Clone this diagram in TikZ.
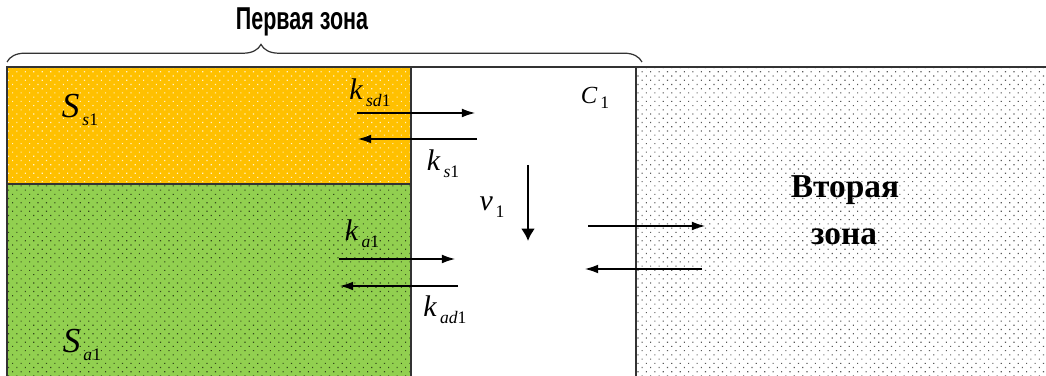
\documentclass[tikz,border=0pt]{standalone}
\usepackage{fontspec}
\setmainfont{Liberation Serif}
\newfontfamily\zonefont[FakeStretch=0.68]{Liberation Sans}
\usetikzlibrary{patterns.meta,decorations.pathreplacing,arrows.meta}
\definecolor{sorbe}{HTML}{FFC000}
\definecolor{adsorbe}{HTML}{92D050}
\definecolor{trait}{HTML}{333333}
% Indice façon éditeur d'équations
\newcommand{\etiq}[3]{\textit{#1}\raisebox{-.22em}{\fontsize{10}{11}\selectfont\,\textit{#2}#3}}
\begin{document}
\begin{tikzpicture}[
    x=0.2mm, y=-0.2mm, % Coordonnées en pixels
    points/.style={pattern={Dots[distance=3.4pt, radius=.45pt, angle=45]}},
    cadre/.style={draw=trait, line width=.8pt},
    flux/.style={-{Latex[length=7.5pt, width=5pt]}, line width=.6pt},
    vitesse/.style={-{Latex[length=7pt, width=8pt]}, line width=1.6pt},
    lbl/.style={inner sep=0pt, font=\fontsize{17}{19}\selectfont},
    grand/.style={inner sep=0pt, font=\fontsize{20}{22}\selectfont},
    moyen/.style={inner sep=0pt, font=\fontsize{14}{16}\selectfont},
    zonetxt/.style={font=\bfseries\fontsize{19}{22}\selectfont}
]
\clip (0,0) rectangle (1046,376);
% Zones
\fill[sorbe] (7,67) rectangle (411,184);
\fill[points, pattern color=white!80!sorbe] (7,67) rectangle (411,184);
\fill[adsorbe] (7,184) rectangle (411,390);
\fill[points, pattern color=black!65!adsorbe] (7,184) rectangle (411,390);
\fill[points, pattern color=black!65] (636,67) rectangle (1060,390);
\draw[cadre] (7,390) -- (7,67) -- (1060,67);
\draw[cadre] (411,67) -- (411,390);
\draw[cadre] (7,184) -- (411,184);
\draw[cadre] (636,67) -- (636,390);
% Accolade
\draw[draw=trait, line width=.7pt, decorate,
      decoration={brace, amplitude=10pt, aspect=0.4}] (7,62) -- (642,62);
\node (zone1) at (302,22) {\zonefont\bfseries\fontsize{18}{20}\selectfont Первая зона};
% Etiquettes
\node[grand] (Ss) at (80,110) {\etiq{S}{s}{1}};
\node[grand] (Sa) at (82,345) {\etiq{S}{a}{1}};
\node[lbl] (ksd) at (370,93) {\etiq{k}{sd}{1}};
\node[lbl] (ks) at (443,164) {\etiq{k}{s}{1}};
\node[lbl] (v) at (492,207) {\etiq{v}{}{1}};
\node[moyen] (C) at (595,98) {\etiq{C}{}{1}};
\node[lbl] (ka) at (362,234) {\etiq{k}{a}{1}};
\node[lbl] (kad) at (445,310) {\etiq{k}{ad}{1}};
\node[zonetxt] (zone2) at (845,190) {Вторая};
\node[zonetxt] (zone2b) at (844,237) {зона};
% Flux
\coordinate (s1) at (357,113); \coordinate (s2) at (475,113);
\coordinate (s3) at (477,139); \coordinate (s4) at (358,139);
\coordinate (a1) at (339,259); \coordinate (a2) at (455,259);
\coordinate (a3) at (458,286); \coordinate (a4) at (340,286);
\coordinate (e1) at (588,226); \coordinate (e2) at (705,226);
\coordinate (e3) at (702,269); \coordinate (e4) at (585,269);
\coordinate (v1) at (528,165); \coordinate (v2) at (528,241);
\draw[flux] (s1) -- (s2);
\draw[flux] (s3) -- (s4);
\draw[flux] (a1) -- (a2);
\draw[flux] (a3) -- (a4);
\draw[flux] (e1) -- (e2);
\draw[flux] (e3) -- (e4);
\draw[vitesse] (v1) -- (v2);
\end{tikzpicture}
\end{document}
